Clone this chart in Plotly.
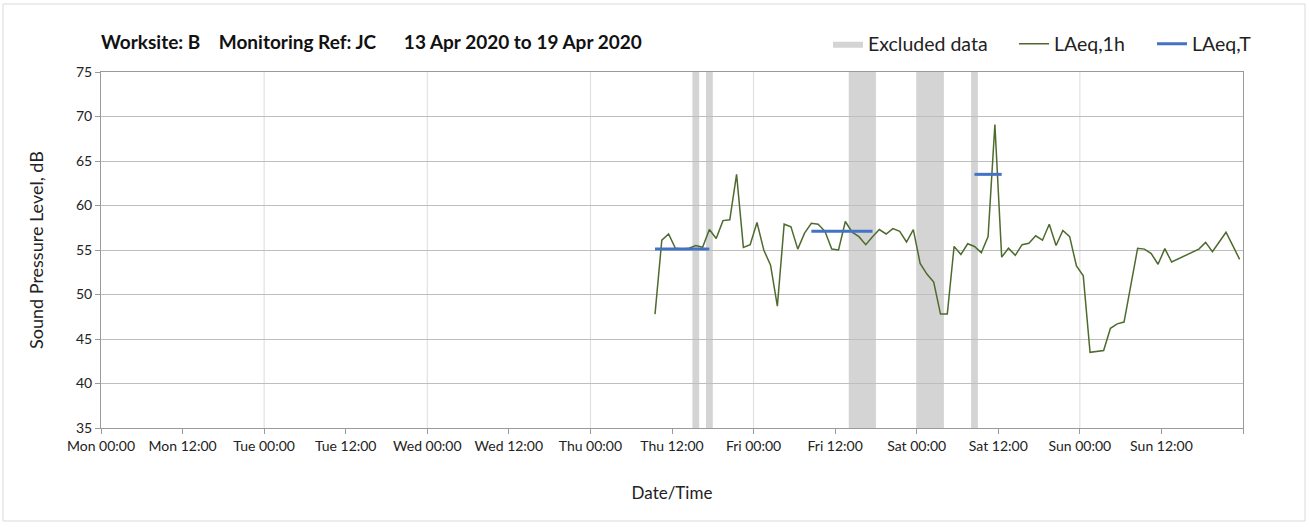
import pandas as pd
import plotly.graph_objects as go

# ---------------- data ----------------
start_time = "2020-04-16 09:30"   # first hourly value (Thu)
laeq_1h = [
    47.8, 56.1, 56.8, 55.2, 55.1, 55.2, 55.5, 55.3, 57.3, 56.3,
    58.3, 58.4, 63.5, 55.3, 55.6, 58.1, 55.0, 53.3, 48.7, 57.9,
    57.6, 55.1, 56.9, 58.0, 57.9, 57.1, 55.1, 55.0, 58.2, 57.0,
    56.5, 55.6, 56.5, 57.3, 56.8, 57.4, 57.1, 55.9, 57.3, 53.5,
    52.3, 51.4, 47.8, 47.8, 55.4, 54.5, 55.7, 55.4, 54.7, 56.5,
    69.1, 54.2, 55.2, 54.4, 55.6, 55.75, 56.6, 56.1, 57.9, 55.5,
    57.2, 56.5, 53.2, 52.1, 43.5, 43.6, 43.7, 46.2, 46.7, 46.9,
    51.0, 55.2, 55.1, 54.6, 53.4, 55.15, 53.65, 54.0, 54.4, 54.7,
    55.1, 55.85, 54.8, 55.9, 57.0, 55.5, 53.95,
]
times_1h = pd.date_range(start_time, periods=len(laeq_1h), freq="h")

excluded_start = ["2020-04-16 15:00", "2020-04-16 17:00", "2020-04-17 14:00",
                  "2020-04-18 00:00", "2020-04-18 08:00"]
excluded_end = ["2020-04-16 16:00", "2020-04-16 18:00", "2020-04-17 18:00",
                "2020-04-18 04:00", "2020-04-18 09:00"]

laeq_t_start = ["2020-04-16 09:30", "2020-04-17 08:30", "2020-04-18 08:30"]
laeq_t_end = ["2020-04-16 17:30", "2020-04-17 17:30", "2020-04-18 12:30"]
laeq_t_value = [55.1, 57.1, 63.5]

x_start, x_end = "2020-04-13 00:00", "2020-04-20 00:00"
y_min, y_max = 35, 75
title_text = ("Worksite: B\u00a0\u00a0\u00a0 Monitoring Ref: JC\u00a0\u00a0\u00a0\u00a0\u00a0 "
              "13 Apr 2020 to 19 Apr 2020")

tick_times = pd.date_range(x_start, x_end, freq="12h")
tick_labels = [t.strftime("%a %H:%M") for t in tick_times[:-1]] + [""]

# ---------------- styles ----------------
FONT = "Lato, 'Open Sans', sans-serif"
GREEN = "#4E6B2E"
BLUE = "#4472C4"
BAND = "#D4D4D4"
HGRID = "#BEBEBE"
VGRID = "#DCDCDC"
AXIS = "#9A9A9A"
TXT = "#222222"

fig = go.Figure()

# legend entry for excluded periods
fig.add_trace(go.Scatter(
    x=[None], y=[None], mode="lines", fill="toself", fillcolor=BAND,
    line=dict(width=0, color=BAND), name="Excluded data", legend="legend",
))

fig.add_trace(go.Scatter(
    x=times_1h, y=laeq_1h, mode="lines", name="LAeq,1h",
    line=dict(color=GREEN, width=1.5), legend="legend2",
))

xs, ys = [], []
for s, e, v in zip(laeq_t_start, laeq_t_end, laeq_t_value):
    xs += [s, e, None]
    ys += [v, v, None]
fig.add_trace(go.Scatter(
    x=xs, y=ys, mode="lines", name="LAeq,T",
    line=dict(color=BLUE, width=3), legend="legend3",
))

shapes = []
# vertical gridlines at midnight
for d in pd.date_range(x_start, x_end, freq="D")[1:-1]:
    shapes.append(dict(type="line", xref="x", yref="paper", x0=d, x1=d, y0=0, y1=1,
                       line=dict(color=VGRID, width=1), layer="below"))
# excluded bands
for s, e in zip(excluded_start, excluded_end):
    shapes.append(dict(type="rect", xref="x", yref="paper", x0=s, x1=e, y0=0, y1=1,
                       fillcolor=BAND, line=dict(width=0), layer="below"))
# chart-area border
L, R, T, B = 101, 66, 72, 99
PW, PH = 1309 - L - R, 527 - T - B
shapes.append(dict(type="rect", xref="paper", yref="paper",
                   x0=(3 - L) / PW, x1=(1305 - L) / PW,
                   y0=(527 - B - 521) / PH, y1=(527 - B - 4) / PH,
                   line=dict(color="#D9D9D9", width=1), fillcolor="rgba(0,0,0,0)",
                   layer="below"))

def legend_at(px):
    return dict(x=(px - L) / PW, y=(527 - B - 44) / PH, xanchor="left", yanchor="middle",
                orientation="h", bgcolor="rgba(0,0,0,0)", borderwidth=0,
                font=dict(family=FONT, size=19.5, color=TXT))

fig.update_layout(
    width=1309, height=527,
    margin=dict(l=L, r=R, t=T, b=B),
    paper_bgcolor="white", plot_bgcolor="white",
    font=dict(family=FONT, color=TXT),
    title=dict(text="<b>" + title_text + "</b>", x=L / 1309, xanchor="left",
               y=1 - 42 / 527, yanchor="middle", font=dict(family=FONT, size=19, color="#111")),
    showlegend=True,
    legend=legend_at(828), legend2=legend_at(1014), legend3=legend_at(1152),
    shapes=shapes,
    xaxis=dict(
        type="date", range=[x_start, x_end],
        tickmode="array", tickvals=tick_times, ticktext=tick_labels,
        ticks="outside", ticklen=5, tickcolor=AXIS,
        showgrid=False, showline=True, linecolor=AXIS, linewidth=1, mirror=True,
        zeroline=False, tickfont=dict(family=FONT, size=14, color=TXT),
        title=dict(text="Date/Time", font=dict(family=FONT, size=17, color=TXT), standoff=34),
    ),
    yaxis=dict(
        range=[y_min, y_max], dtick=5, ticks="outside", ticklen=5, tickcolor=AXIS,
        showgrid=True, gridcolor=HGRID, gridwidth=1, showline=True, linecolor=AXIS,
        linewidth=1, mirror=True, zeroline=False,
        tickfont=dict(family=FONT, size=14, color=TXT),
        title=dict(text="Sound Pressure Level, dB", font=dict(family=FONT, size=18, color=TXT),
                   standoff=27),
    ),
)

fig.write_html("out.html", config={"displayModeBar": False},
               post_script="document.body.style.margin='0px';")
